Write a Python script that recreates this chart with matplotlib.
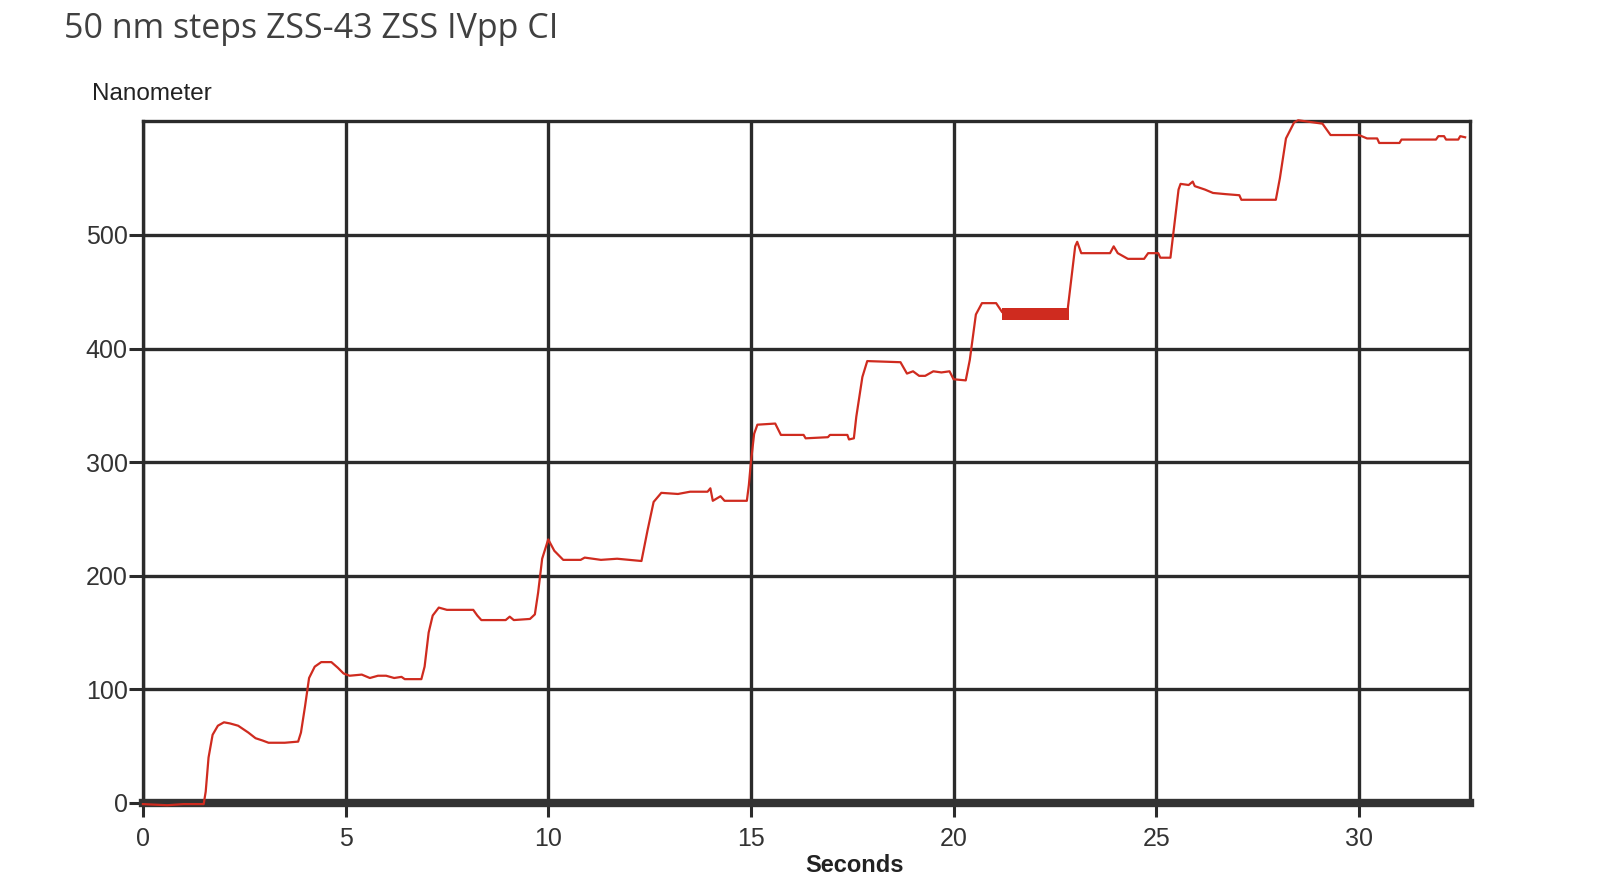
import matplotlib
matplotlib.use("Agg")
import matplotlib.pyplot as plt

# step trace: seconds and nanometer
SECONDS = [0.0, 0.6, 1.0, 1.5, 1.55, 1.62, 1.72, 1.85, 2.0, 2.15,
           2.35, 2.6, 2.78, 2.95, 3.1, 3.5, 3.83, 3.9, 4.0, 4.1,
           4.24, 4.4, 4.65, 4.81, 4.95, 5.1, 5.4, 5.6, 5.8, 6.0,
           6.2, 6.38, 6.46, 6.87, 6.95, 7.05, 7.15, 7.3, 7.5, 8.15,
           8.25, 8.35, 8.95, 9.05, 9.15, 9.55, 9.67, 9.75, 9.85, 10.0,
           10.15, 10.37, 10.8, 10.9, 11.3, 11.7, 12.3, 12.45, 12.6, 12.79,
           13.2, 13.5, 13.93, 14.0, 14.06, 14.25, 14.35, 14.9, 14.95, 15.0,
           15.08, 15.16, 15.6, 15.74, 16.3, 16.35, 16.9, 16.95, 17.38, 17.42,
           17.54, 17.6, 17.75, 17.87, 18.69, 18.85, 19.0, 19.15, 19.3, 19.5,
           19.7, 19.9, 20.0, 20.3, 20.4, 20.55, 20.7, 21.05, 21.2, 22.8,
           22.9, 23.0, 23.05, 23.15, 23.86, 23.95, 24.05, 24.3, 24.7, 24.8,
           25.05, 25.1, 25.35, 25.45, 25.55, 25.6, 25.8, 25.9, 25.95, 26.2,
           26.4, 26.7, 27.05, 27.1, 27.95, 28.05, 28.2, 28.4, 28.5, 29.1,
           29.2, 29.3, 30.0, 30.2, 30.45, 30.5, 31.0, 31.05, 31.9, 31.96,
           32.1, 32.15, 32.45, 32.5, 32.62]
NANOMETER = [-1, -2, -1, -1, 10, 40, 60, 68, 71, 70,
             68, 62, 57, 55, 53, 53, 54, 62, 85, 110,
             120, 124, 124, 119, 114, 112, 113, 110, 112, 112,
             110, 111, 109, 109, 120, 150, 165, 172, 170, 170,
             165, 161, 161, 164, 161, 162, 166, 185, 215, 232,
             222, 214, 214, 216, 214, 215, 213, 240, 265, 273,
             272, 274, 274, 277, 266, 270, 266, 266, 280, 300,
             325, 333, 334, 324, 324, 321, 322, 324, 324, 320,
             321, 340, 375, 389, 388, 378, 380, 376, 376, 380,
             379, 380, 373, 372, 390, 430, 440, 440, 432, 430,
             460, 490, 494, 484, 484, 490, 484, 479, 479, 484,
             484, 480, 480, 510, 540, 545, 544, 547, 543, 540,
             537, 536, 535, 531, 531, 550, 585, 599, 601, 598,
             593, 588, 588, 585, 585, 581, 581, 584, 584, 587,
             587, 584, 584, 587, 586]

# the jittery stretch after the 440 step shows as a solid band
BAND_SECONDS = [21.2, 22.85]
BAND_LOW = [425, 425]
BAND_HIGH = [436, 436]

X_TICKS = [0, 5, 10, 15, 20, 25, 30]
Y_TICKS = [0, 100, 200, 300, 400, 500]

GRID = "#2b2b2b"
RED = "#cf2b1f"


def plot_graph():
    fig = plt.figure(figsize=(16, 8.9), dpi=100)
    ax = fig.add_axes([0.0893, 0.0978, 0.8297, 0.7658])

    # not clipped so the flat start sits on top of the thick bottom line
    ax.plot(SECONDS, NANOMETER, color=RED, linewidth=1.6, zorder=4,
            clip_on=False)
    ax.fill_between(BAND_SECONDS, BAND_LOW, BAND_HIGH, color=RED,
                    linewidth=0, zorder=3)

    ax.set_xlim(0, 32.75)
    ax.set_ylim(0, 600)
    ax.set_xticks(X_TICKS)
    ax.set_yticks(Y_TICKS)

    # heavy dark grid like the instrument software
    ax.grid(True, color=GRID, linewidth=2.4, zorder=1)
    ax.set_axisbelow(True)
    for side in ["top", "left", "right"]:
        ax.spines[side].set_color(GRID)
        ax.spines[side].set_linewidth(2.4)
    ax.spines["bottom"].set_color("#333333")
    ax.spines["bottom"].set_linewidth(6)

    ax.tick_params(axis="both", colors=GRID, width=2.2, length=10,
                   labelsize=18, labelcolor="#333333")
    ax.tick_params(axis="x", pad=7)
    ax.tick_params(axis="y", pad=1)
    for label in ax.get_xticklabels() + ax.get_yticklabels():
        label.set_family("Liberation Sans")

    fig.text(855 / 1600, 1 - 866 / 890, "Seconds", fontsize=17,
             fontweight="bold", family="Liberation Sans", color="#222222",
             ha="center", va="center")
    fig.text(92 / 1600, 1 - 94 / 890, "Nanometer", fontsize=17.5,
             family="Liberation Sans", color="#222222", va="center")
    fig.text(64 / 1600, 1 - 29 / 890, "50 nm steps ZSS-43 ZSS IVpp CI",
             fontsize=24.5, family="Open Sans", color="#404040",
             va="center")

    fig.savefig("out.png", dpi=100, facecolor="white")


def main():
    plot_graph()


main()
